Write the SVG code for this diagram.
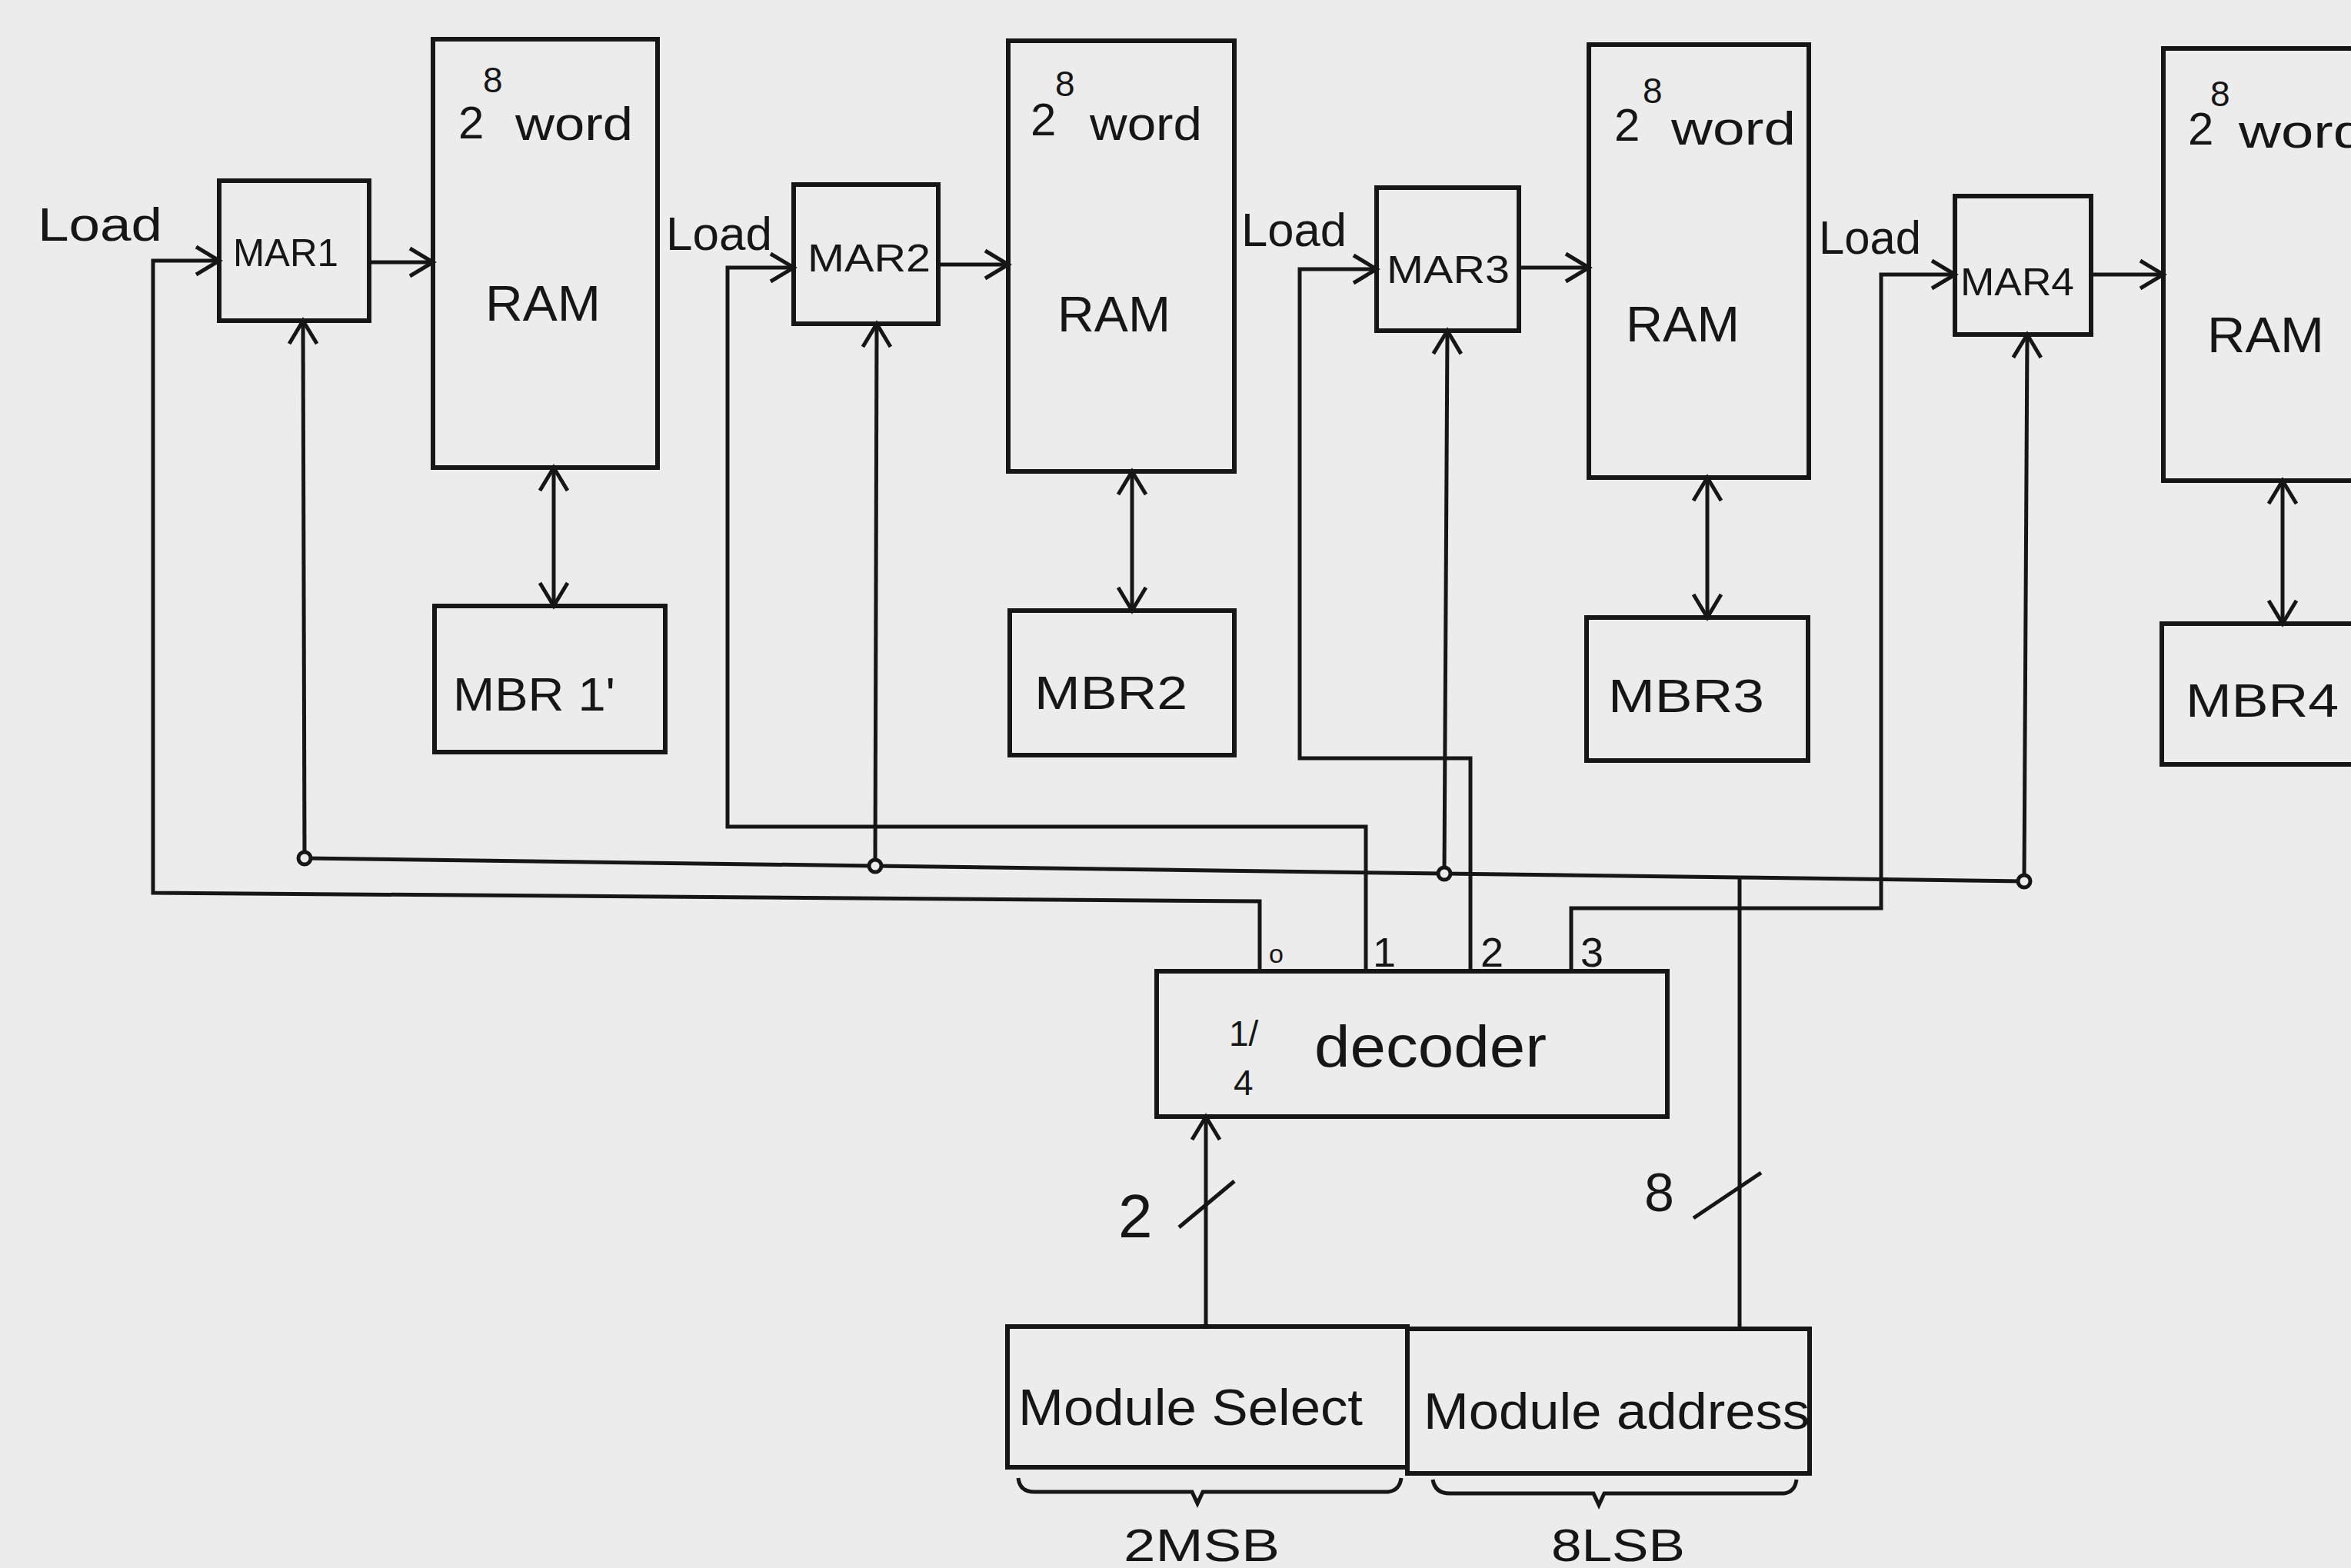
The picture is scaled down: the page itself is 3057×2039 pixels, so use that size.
<svg xmlns="http://www.w3.org/2000/svg" width="3057" height="2039" viewBox="0 0 3057 2039">
<style>
.box{fill:none;stroke:#161616;stroke-width:6;stroke-linejoin:miter}
.ln{fill:none;stroke:#161616;stroke-width:5;stroke-linejoin:miter}
.t{font-family:"Liberation Sans",Arial,sans-serif;fill:#161616}
.dot{fill:#ececec;stroke:#161616;stroke-width:5}
</style>
<defs>
<marker id="arr" markerUnits="userSpaceOnUse" markerWidth="40" markerHeight="44" refX="34" refY="22" orient="auto-start-reverse" viewBox="0 0 40 44">
<path d="M4,4 L34,22 L4,40" fill="none" stroke="#161616" stroke-width="5"/>
</marker>
</defs>
<rect x="0" y="0" width="3057" height="2039" fill="#ececec"/>

<g id="ram1">
<rect class="box" x="563" y="51" width="292" height="557"/>
<text class="t" x="628" y="120" font-size="46">8</text>
<text class="t" x="596" y="180" font-size="60">2</text>
<text class="t" x="670" y="182" font-size="62" textLength="153" lengthAdjust="spacingAndGlyphs">word</text>
<text class="t" x="631" y="417" font-size="64" textLength="150" lengthAdjust="spacingAndGlyphs">RAM</text>
</g>
<g id="ram2">
<rect class="box" x="1311" y="53" width="294" height="560"/>
<text class="t" x="1372" y="125" font-size="46">8</text>
<text class="t" x="1340" y="176" font-size="60">2</text>
<text class="t" x="1417" y="182" font-size="62" textLength="146" lengthAdjust="spacingAndGlyphs">word</text>
<text class="t" x="1375" y="431" font-size="64" textLength="147" lengthAdjust="spacingAndGlyphs">RAM</text>
</g>
<g id="ram3">
<rect class="box" x="2066" y="58" width="286" height="563"/>
<text class="t" x="2136" y="134" font-size="46">8</text>
<text class="t" x="2099" y="183" font-size="60">2</text>
<text class="t" x="2173" y="188" font-size="62" textLength="162" lengthAdjust="spacingAndGlyphs">word</text>
<text class="t" x="2114" y="444" font-size="64" textLength="148" lengthAdjust="spacingAndGlyphs">RAM</text>
</g>
<g id="ram4">
<rect class="box" x="2813" y="63" width="320" height="562"/>
<text class="t" x="2874" y="138" font-size="46">8</text>
<text class="t" x="2845" y="188" font-size="60">2</text>
<text class="t" x="2911" y="192" font-size="62" textLength="165" lengthAdjust="spacingAndGlyphs">word</text>
<text class="t" x="2870" y="458" font-size="64" textLength="152" lengthAdjust="spacingAndGlyphs">RAM</text>
</g>

<g id="mar1">
<rect class="box" x="285" y="235" width="195" height="182"/>
<text class="t" x="303" y="346" font-size="50" textLength="137" lengthAdjust="spacingAndGlyphs">MAR1</text>
</g>
<g id="mar2">
<rect class="box" x="1032" y="240" width="188" height="181"/>
<text class="t" x="1050" y="353" font-size="50" textLength="160" lengthAdjust="spacingAndGlyphs">MAR2</text>
</g>
<g id="mar3">
<rect class="box" x="1790" y="244" width="185" height="186"/>
<text class="t" x="1803" y="368" font-size="50" textLength="160" lengthAdjust="spacingAndGlyphs">MAR3</text>
</g>
<g id="mar4">
<rect class="box" x="2542" y="255" width="177" height="180"/>
<text class="t" x="2549" y="384" font-size="50" textLength="148" lengthAdjust="spacingAndGlyphs">MAR4</text>
</g>

<g id="mbr1">
<rect class="box" x="565" y="788" width="300" height="190"/>
<text class="t" x="589" y="924" font-size="62" textLength="211" lengthAdjust="spacingAndGlyphs">MBR 1'</text>
</g>
<g id="mbr2">
<rect class="box" x="1313" y="794" width="292" height="188"/>
<text class="t" x="1345" y="922" font-size="62" textLength="199" lengthAdjust="spacingAndGlyphs">MBR2</text>
</g>
<g id="mbr3">
<rect class="box" x="2063" y="803" width="288" height="186"/>
<text class="t" x="2091" y="926" font-size="62" textLength="203" lengthAdjust="spacingAndGlyphs">MBR3</text>
</g>
<g id="mbr4">
<rect class="box" x="2811" y="811" width="320" height="183"/>
<text class="t" x="2842" y="932" font-size="62" textLength="199" lengthAdjust="spacingAndGlyphs">MBR4</text>
</g>

<g id="decoder">
<rect class="box" x="1504" y="1263" width="664" height="189"/>
<text class="t" x="1598" y="1360" font-size="46">1/</text>
<text class="t" x="1604" y="1424" font-size="46">4</text>
<text class="t" x="1709" y="1387" font-size="76" textLength="302" lengthAdjust="spacingAndGlyphs">decoder</text>
<text class="t" x="1650" y="1252" font-size="34">o</text>
<text class="t" x="1785" y="1257" font-size="54">1</text>
<text class="t" x="1925" y="1257" font-size="54">2</text>
<text class="t" x="2055" y="1257" font-size="54">3</text>
</g>

<g id="module-select">
<rect class="box" x="1310" y="1725" width="520" height="183"/>
<text class="t" x="1324" y="1853" font-size="66" textLength="448" lengthAdjust="spacingAndGlyphs">Module Select</text>
</g>
<g id="module-address">
<rect class="box" x="1830" y="1728" width="523" height="188"/>
<text class="t" x="1851" y="1858" font-size="66" textLength="502" lengthAdjust="spacingAndGlyphs">Module address</text>
</g>

<g id="labels">
<text class="t" x="49" y="313" font-size="62" textLength="162" lengthAdjust="spacingAndGlyphs">Load</text>
<text class="t" x="866" y="325" font-size="62" textLength="138" lengthAdjust="spacingAndGlyphs">Load</text>
<text class="t" x="1614" y="320" font-size="62" textLength="137" lengthAdjust="spacingAndGlyphs">Load</text>
<text class="t" x="2365" y="330" font-size="62" textLength="133" lengthAdjust="spacingAndGlyphs">Load</text>
<text class="t" x="1454" y="1609" font-size="80">2</text>
<text class="t" x="2138" y="1575" font-size="70">8</text>
<text class="t" x="1461" y="2030" font-size="60" textLength="203" lengthAdjust="spacingAndGlyphs">2MSB</text>
<text class="t" x="2017" y="2030" font-size="60" textLength="174" lengthAdjust="spacingAndGlyphs">8LSB</text>
</g>

<g id="connectors">
<polyline class="ln" points="1638,1263 1638,1172 199,1161 199,339 285,339" marker-end="url(#arr)"/>
<polyline class="ln" points="1776,1263 1776,1075 946,1075 946,348 1032,348" marker-end="url(#arr)"/>
<polyline class="ln" points="1912,1263 1912,986 1690,986 1690,350 1790,350" marker-end="url(#arr)"/>
<polyline class="ln" points="2043,1263 2043,1181 2446,1181 2446,357 2542,357" marker-end="url(#arr)"/>
<line class="ln" x1="480" y1="341" x2="563" y2="341" marker-end="url(#arr)"/>
<line class="ln" x1="1220" y1="344" x2="1311" y2="344" marker-end="url(#arr)"/>
<line class="ln" x1="1975" y1="348" x2="2066" y2="348" marker-end="url(#arr)"/>
<line class="ln" x1="2719" y1="357" x2="2813" y2="357" marker-end="url(#arr)"/>
<line class="ln" x1="720" y1="608" x2="720" y2="788" marker-start="url(#arr)" marker-end="url(#arr)"/>
<line class="ln" x1="1472" y1="613" x2="1472" y2="794" marker-start="url(#arr)" marker-end="url(#arr)"/>
<line class="ln" x1="2220" y1="621" x2="2220" y2="803" marker-start="url(#arr)" marker-end="url(#arr)"/>
<line class="ln" x1="2968" y1="625" x2="2968" y2="811" marker-start="url(#arr)" marker-end="url(#arr)"/>
<polyline class="ln" points="396,1116 1138,1126 1878,1136 2262,1141 2632,1146"/>
<line class="ln" x1="396" y1="1116" x2="394" y2="417" marker-end="url(#arr)"/>
<line class="ln" x1="1138" y1="1126" x2="1140" y2="421" marker-end="url(#arr)"/>
<line class="ln" x1="1878" y1="1136" x2="1882" y2="430" marker-end="url(#arr)"/>
<line class="ln" x1="2632" y1="1146" x2="2636" y2="435" marker-end="url(#arr)"/>
<circle class="dot" cx="396" cy="1116" r="8"/>
<circle class="dot" cx="1138" cy="1126" r="8"/>
<circle class="dot" cx="1878" cy="1136" r="8"/>
<circle class="dot" cx="2632" cy="1146" r="8"/>
<line class="ln" x1="2262" y1="1141" x2="2262" y2="1728"/>
<line class="ln" x1="1568" y1="1725" x2="1568" y2="1452" marker-end="url(#arr)"/>
<line class="ln" x1="1533" y1="1596" x2="1605" y2="1536"/>
<line class="ln" x1="2202" y1="1584" x2="2290" y2="1525"/>
<path class="ln" d="M1324,1922 Q1326,1940 1345,1940 L1550,1940 L1557,1955 L1564,1940 L1805,1940 Q1820,1938 1822,1922"/>
<path class="ln" d="M1863,1924 Q1866,1942 1885,1942 L2072,1942 L2079,1957 L2086,1942 L2320,1942 Q2334,1940 2336,1924"/>
</g>
</svg>
